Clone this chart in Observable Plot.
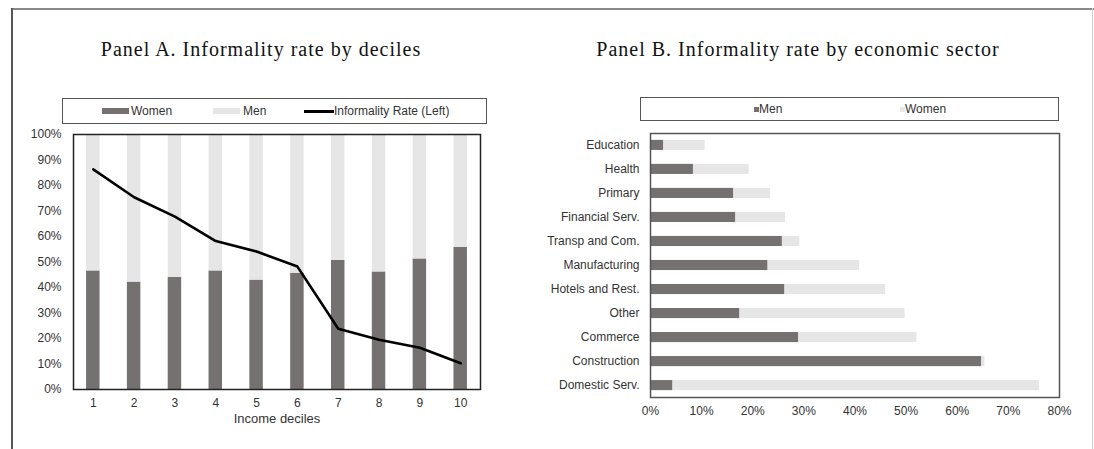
<!DOCTYPE html>
<html>
<head>
<meta charset="utf-8">
<script src="https://cdn.jsdelivr.net/npm/d3@7"></script>
<script src="https://cdn.jsdelivr.net/npm/@observablehq/plot@0.6"></script>
<style>
  html, body { margin: 0; padding: 0; background: #fff; }
  #root { position: relative; width: 1094px; height: 449px; overflow: hidden; background: #fff; font-family: "Liberation Sans", Arial, sans-serif; }
  .frame-top { position: absolute; left: 11px; top: 8px; width: 1083px; height: 2px; background: #8a8a8a; }
  .frame-left { position: absolute; left: 11px; top: 8px; width: 2px; height: 441px; background: #555; }
  .frame-right { position: absolute; left: 1092px; top: 8px; width: 1px; height: 441px; background: #cfcfcf; }
  .title { position: absolute; top: 38px; font-family: "Liberation Serif", "DejaVu Serif", serif; font-size: 20px; letter-spacing: 1px; color: #111; white-space: nowrap; transform: translateX(-50%); }
  .legend { position: absolute; border: 1px solid #555; box-sizing: border-box; }
  .lg-item { position: absolute; font-size: 12px; color: #333; white-space: nowrap; line-height: 14px; }
  .sw { position: absolute; }
  .chart { position: absolute; }
  #chartA svg [aria-label="x-axis label"] text { font-size: 13px; }
</style>
</head>
<body>
<div id="root">
  <div class="frame-top"></div>
  <div class="frame-left"></div>
  <div class="frame-right"></div>
  <div class="title" style="left:261px">Panel A. Informality rate by deciles</div>
  <div class="title" style="left:798px">Panel B. Informality rate by economic sector</div>

  <div class="legend" style="left:62px; top:98px; width:425px; height:26px;">
    <div class="sw" style="left:39px; top:9px; width:27px; height:6px; background:#767171;"></div>
    <div class="lg-item" style="left:68px; top:5px;">Women</div>
    <div class="sw" style="left:150px; top:9px; width:27px; height:6px; background:#e7e6e6;"></div>
    <div class="lg-item" style="left:180px; top:5px;">Men</div>
    <div class="sw" style="left:241px; top:11px; width:30px; height:2.5px; background:#000;"></div>
    <div class="lg-item" style="left:271px; top:5px;">Informality Rate (Left)</div>
  </div>

  <div class="legend" style="left:640px; top:97px; width:419px; height:24px;">
    <div class="sw" style="left:113px; top:9px; width:5px; height:5px; background:#767171;"></div>
    <div class="lg-item" style="left:118px; top:4px;">Men</div>
    <div class="sw" style="left:259px; top:9px; width:5px; height:5px; background:#e7e6e6;"></div>
    <div class="lg-item" style="left:264px; top:4px;">Women</div>
  </div>

  <div class="chart" id="chartA" style="left:0px; top:125px;"></div>
  <div class="chart" id="chartB" style="left:520px; top:125px;"></div>
</div>
<script>
// ---- Panel A data ----
const deciles = ["1", "2", "3", "4", "5", "6", "7", "8", "9", "10"];
const womenShare = [46.5, 42.1, 44.0, 46.5, 42.9, 45.6, 50.6, 46.1, 51.2, 55.7];
const menShare = [53.5, 57.9, 56.0, 53.5, 57.1, 54.4, 49.4, 53.9, 48.8, 44.3];
const informalityRate = [86.3, 75.4, 67.8, 58.2, 54.1, 48.2, 23.8, 19.5, 16.4, 10.3];
const yTicksA = [0, 10, 20, 30, 40, 50, 60, 70, 80, 90, 100];

// ---- Panel B data ----
const sectors = ["Education", "Health", "Primary", "Financial Serv.", "Transp and Com.", "Manufacturing", "Hotels and Rest.", "Other", "Commerce", "Construction", "Domestic Serv."];
const menSector = [2.6, 8.4, 16.3, 16.7, 25.8, 23.0, 26.3, 17.5, 29.0, 64.8, 4.4];
const womenSector = [8.1, 10.9, 7.2, 9.7, 3.4, 17.9, 19.7, 32.3, 23.1, 0.6, 71.7];
const xTicksB = [0, 10, 20, 30, 40, 50, 60, 70, 80];

const DARK = "#767171", LIGHT = "#e7e6e6", TXT = "#333";
const pct = d => d + "%";

// Panel A
const rowsA = [
  ...deciles.map((d, i) => ({decile: d, group: "Women", value: womenShare[i]})),
  ...deciles.map((d, i) => ({decile: d, group: "Men", value: menShare[i]}))
];
const lineA = deciles.map((d, i) => ({decile: d, rate: informalityRate[i]}));

const chartA = Plot.plot({
  width: 500, height: 310,
  marginLeft: 73, marginRight: 20, marginTop: 9, marginBottom: 46,
  style: {fontFamily: "'Liberation Sans', Arial, sans-serif", fontSize: "12px", color: TXT, background: "transparent"},
  x: {type: "band", domain: deciles, paddingInner: 0.67, paddingOuter: 0.32, round: false},
  y: {domain: [0, 100]},
  color: {domain: ["Women", "Men"], range: [DARK, LIGHT]},
  marks: [
    Plot.barY(rowsA, Plot.stackY({x: "decile", y: "value", fill: "group", order: null})),
    Plot.lineY(lineA, {x: "decile", y: "rate", stroke: "#000", strokeWidth: 2.6}),
    Plot.frame({stroke: "#222", strokeWidth: 1.5}),
    Plot.axisY({ticks: yTicksA, tickFormat: pct, tickSize: 0, tickPadding: 12, label: null, fontSize: 12}),
    Plot.axisX({tickSize: 0, tickPadding: 9, label: null, fontSize: 12}),
    Plot.axisX({tickSize: 0, tickFormat: () => "", label: "Income deciles", labelAnchor: "center", labelArrow: "none", labelOffset: 33, fontSize: 13, ariaLabel: "x-axis label"})
  ]
});
document.getElementById("chartA").appendChild(chartA);

// Panel B
const rowsB = [
  ...sectors.map((s, i) => ({sector: s, group: "Men", value: menSector[i]})),
  ...sectors.map((s, i) => ({sector: s, group: "Women", value: womenSector[i]}))
];

const chartB = Plot.plot({
  width: 574, height: 310,
  marginLeft: 130, marginRight: 35, marginTop: 8, marginBottom: 38,
  style: {fontFamily: "'Liberation Sans', Arial, sans-serif", fontSize: "12px", color: TXT, background: "transparent"},
  y: {type: "band", domain: sectors, paddingInner: 0.58, paddingOuter: 0.285, round: false},
  x: {domain: [0, 80]},
  color: {domain: ["Men", "Women"], range: [DARK, LIGHT]},
  marks: [
    Plot.barX(rowsB, Plot.stackX({y: "sector", x: "value", fill: "group", order: null})),
    Plot.frame({stroke: "#555", strokeWidth: 1.5}),
    Plot.axisY({tickSize: 0, tickPadding: 11, label: null, fontSize: 12}),
    Plot.axisX({ticks: xTicksB, tickFormat: pct, tickSize: 0, tickPadding: 9, label: null, fontSize: 12})
  ]
});
document.getElementById("chartB").appendChild(chartB);
</script>
</body>
</html>
